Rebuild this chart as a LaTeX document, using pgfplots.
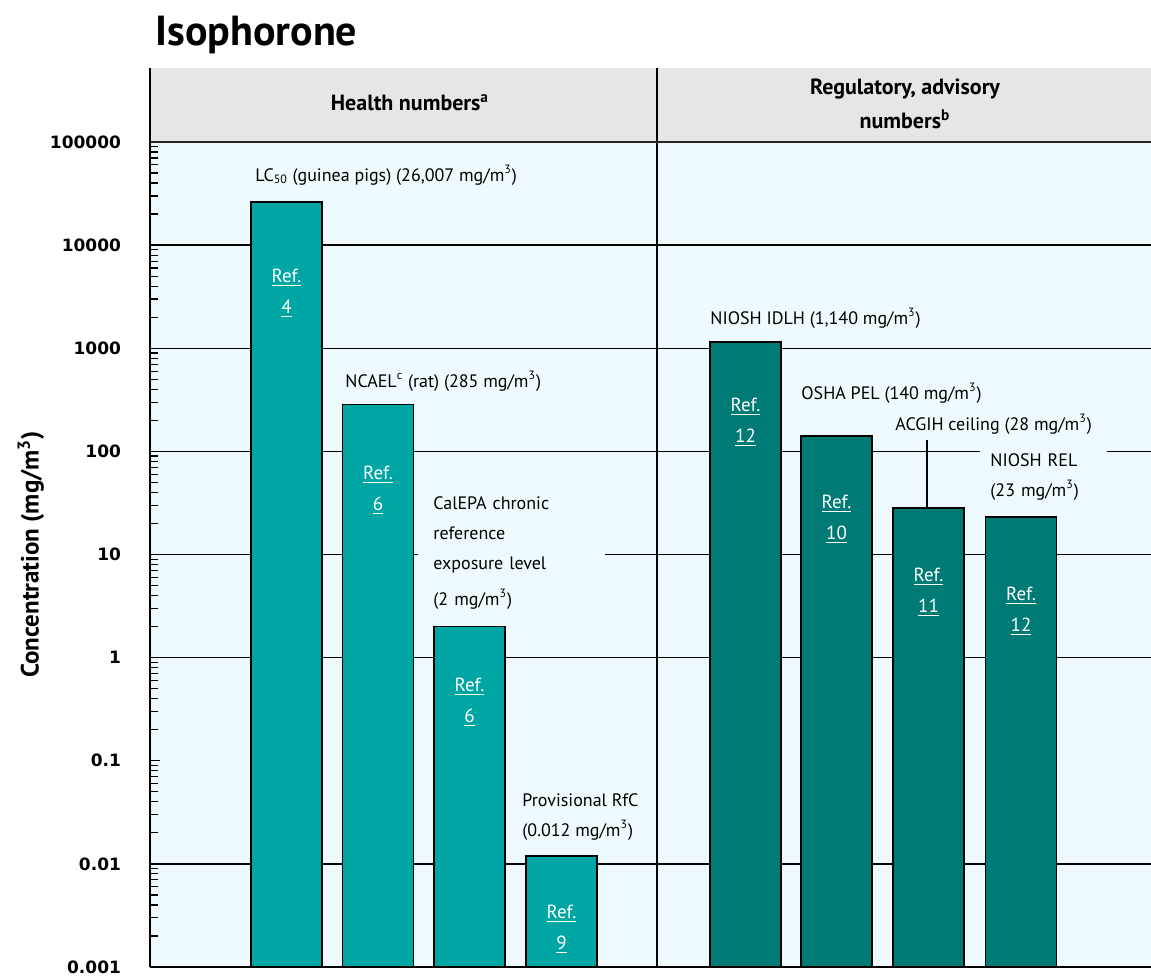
\documentclass[border=0pt]{standalone}
\usepackage{fontspec}
\setmainfont{PT Sans}
\newfontfamily\tickfont{DejaVu Sans}
\usepackage{pgfplots}
\pgfplotsset{compat=1.18}
\definecolor{bgc}{RGB}{238,250,254}
\definecolor{hdr}{RGB}{230,230,230}
\definecolor{tealA}{RGB}{0,166,164}
\definecolor{tealB}{RGB}{0,122,117}
\begin{document}
\begin{tikzpicture}
\begin{axis}[
 scale only axis, width=500.5pt, height=412.5pt,
 xmin=150, xmax=1151, ymin=1e-3, ymax=1e5, ymode=log, log origin y=infty,
 axis x line=bottom, axis y line=left,
 axis line style={-, black, line width=0.9pt},
 xtick=\empty,
 ytick={1e-3,1e-2,1e-1,1,10,100,1000,10000,100000},
 yticklabels={\textbf{0.001},\textbf{0.01},\textbf{0.1},\textbf{1},\textbf{10},\textbf{100},\textbf{1000},\textbf{10000},\textbf{100000}},
 yticklabel style={font=\tickfont\bfseries\fontsize{8.5}{10}\selectfont, xshift=-11pt},
 minor ytick={2e-3,3e-3,4e-3,5e-3,6e-3,7e-3,8e-3,9e-3,
  2e-2,3e-2,4e-2,5e-2,6e-2,7e-2,8e-2,9e-2,
  0.2,0.3,0.4,0.5,0.6,0.7,0.8,0.9,
  2,3,4,5,6,7,8,9,
  20,30,40,50,60,70,80,90,
  200,300,400,500,600,700,800,900,
  2000,3000,4000,5000,6000,7000,8000,9000,
  20000,30000,40000,50000,60000,70000,80000,90000},
 tick align=inside, major tick length=5pt, minor tick length=4pt,
 tick style={black, line width=0.6pt},
 extra y ticks={1e-2,1,10,100,1000,10000},
 extra y tick labels={},
 extra y tick style={grid=major, major tick length=0pt},
 major grid style={black, line width=0.7pt},
 axis background/.style={fill=bgc},
 clip=false,
 ylabel={\bfseries Concentration (mg/m\textsuperscript{3})},
 ylabel style={at={(axis description cs:-0.119,0.5)}, anchor=center, font=\fontsize{12.5}{14}\selectfont},
]
% header band
\fill[hdr] (rel axis cs:0,1) rectangle (rel axis cs:1,1.0897);
\draw[line width=0.9pt] (rel axis cs:0,1) -- (rel axis cs:0,1.0897);
\draw[line width=0.9pt] (rel axis cs:0.506494,0) -- (rel axis cs:0.506494,1.0897);

\addplot[ybar, bar width=71, fill=tealA, draw=black, line width=0.9pt] coordinates {(286.5,26007) (378,285) (469.5,2) (561.5,0.012)};
\addplot[ybar, bar width=71, fill=tealB, draw=black, line width=0.9pt] coordinates {(745.5,1140) (836.5,140) (928.5,28) (1021,23)};

\draw[line width=1.3pt, black!85] (rel axis cs:0,1) -- (rel axis cs:1,1);

% title and headers
\node[anchor=base west, inner sep=0pt, font=\bfseries\fontsize{21}{24}\selectfont] at (rel axis cs:0.004995,1.117576) {Isophorone};
\node[anchor=center, font=\bfseries\fontsize{11}{13}\selectfont] at (rel axis cs:0.25974,1.04727) {Health numbers\textsuperscript{a}};
\node[anchor=center, align=center, font=\bfseries\fontsize{11}{17}\selectfont] at (rel axis cs:0.75425,1.0467) {Regulatory, advisory\\numbers\textsuperscript{b}};

% annotations
\begin{scope}[every node/.style={font=\fontsize{9}{15}\selectfont, inner sep=0pt}]
\node[anchor=west] at (rel axis cs:0.104895,0.96) {LC\textsubscript{50} (guinea pigs) (26,007 mg/m\textsuperscript{3})};
\node[anchor=west] at (rel axis cs:0.194805,0.710303) {NCAEL\textsuperscript{c} (rat) (285 mg/m\textsuperscript{3})};
\node[anchor=west, fill=bgc, inner xsep=7.5pt, inner ysep=3pt, text width=78.5pt, align=left] at (rel axis cs:0.267732,0.501818) {CalEPA chronic\\reference\\exposure level\\[3pt](2 mg/m\textsuperscript{3})};
\node[anchor=west, align=left] at (rel axis cs:0.371628,0.181818) {Provisional RfC\\(0.012 mg/m\textsuperscript{3})};
\node[anchor=west] at (rel axis cs:0.559441,0.786667) {NIOSH IDLH (1,140 mg/m\textsuperscript{3})};
\node[anchor=west] at (rel axis cs:0.65035,0.695758) {OSHA PEL (140 mg/m\textsuperscript{3})};
\node[anchor=west] at (rel axis cs:0.744256,0.658182) {ACGIH ceiling (28 mg/m\textsuperscript{3})};
\node[anchor=west, fill=bgc, inner xsep=5pt, inner ysep=4pt, text width=53.5pt, align=left] at (rel axis cs:0.829171,0.593939) {NIOSH REL\\(23 mg/m\textsuperscript{3})};
\end{scope}
\draw[line width=0.7pt] (axis cs:927,28) -- (axis cs:927,129);

% Ref labels
\begin{scope}[every node/.style={font=\fontsize{9.5}{15.5}\selectfont, text=white, align=center, inner sep=0pt}]
\node at (rel axis cs:0.136364,0.816970) {\underline{Ref.}\\\underline{4}};
\node at (rel axis cs:0.227772,0.578182) {\underline{Ref.}\\\underline{6}};
\node at (rel axis cs:0.319181,0.320606) {\underline{Ref.}\\\underline{6}};
\node at (rel axis cs:0.411089,0.045455) {\underline{Ref.}\\\underline{9}};
\node at (rel axis cs:0.594905,0.660606) {\underline{Ref.}\\\underline{12}};
\node at (rel axis cs:0.685814,0.543030) {\underline{Ref.}\\\underline{10}};
\node at (rel axis cs:0.777722,0.454545) {\underline{Ref.}\\\underline{11}};
\node at (rel axis cs:0.870130,0.430909) {\underline{Ref.}\\\underline{12}};
\end{scope}

\coordinate (TL) at (rel axis cs:-0.149850,1.172121);
\coordinate (BR) at (rel axis cs:1,-0.014545);
\end{axis}
\pgfresetboundingbox
\path (TL) rectangle (BR);
\end{tikzpicture}
\end{document}
